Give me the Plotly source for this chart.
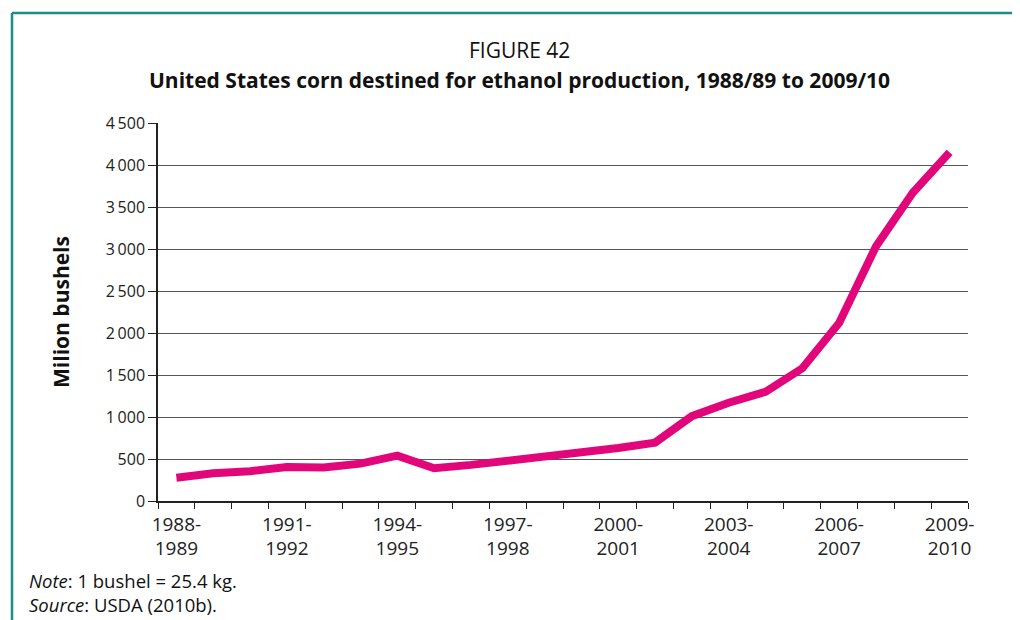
import plotly.graph_objects as go

# Сезоны (маркетинговые годы) и объём кукурузы на этанол, млн бушелей
seasons = ['1988-1989', '1989-1990', '1990-1991', '1991-1992', '1992-1993', '1993-1994',
           '1994-1995', '1995-1996', '1996-1997', '1997-1998', '1998-1999', '1999-2000',
           '2000-2001', '2001-2002', '2002-2003', '2003-2004', '2004-2005', '2005-2006',
           '2006-2007', '2007-2008', '2008-2009', '2009-2010']
corn = [277, 330, 355, 405, 400, 445, 540, 390, 430, 478, 523, 566,
        630, 695, 1010, 1170, 1300, 1580, 2120, 3030, 3670, 4150]

y_ticks = [0, 500, 1000, 1500, 2000, 2500, 3000, 3500, 4000, 4500]
y_labels = ['0', '500', '1\u2009000', '1\u2009500', '2\u2009000', '2\u2009500',
            '3\u2009000', '3\u2009500', '4\u2009000', '4\u2009500']

idx = list(range(len(seasons)))
label_idx = idx[::3]
# подпись в две строки: "1988-" / "1989"
label_text = [s.replace('-', '-<br>') for s in seasons[::3]]

font = 'Open Sans, Noto Sans, sans-serif'
ink = '#222'

fig = go.Figure(go.Scatter(x=idx, y=corn, mode='lines',
                           line=dict(color='#E2067B', width=8),
                           hoverinfo='x+y', showlegend=False))

fig.update_xaxes(range=[-0.5, len(seasons) - 0.5],
                 tickvals=label_idx, ticktext=label_text, ticks='',
                 ticklabelstandoff=5,
                 minor=dict(ticks='outside', tick0=-0.5, dtick=1, ticklen=6,
                            tickcolor=ink, tickwidth=1),
                 showgrid=False, zeroline=False,
                 showline=True, linecolor=ink, linewidth=1.5,
                 tickfont=dict(size=19, color=ink, family=font))

fig.update_yaxes(range=[0, 4500], tickvals=y_ticks, ticktext=y_labels,
                 ticks='outside', ticklen=8, tickcolor=ink,
                 showgrid=True, gridcolor='#555', gridwidth=1,
                 zeroline=False, showline=True, linecolor=ink, linewidth=1.5,
                 tickfont=dict(size=16, color=ink, family=font),
                 title=dict(text='<b>Milion bushels</b>', standoff=30,
                            font=dict(size=21, color='#111', family=font)))

# Рамка: бирюзовая линия сверху и слева (в координатах области графика)
frame = '#1E8C86'
fx = (12 - 158) / 810
fy = (501 - 13) / 378
fig.add_shape(type='line', xref='paper', yref='paper',
              x0=fx, x1=(1030 - 158) / 810, y0=fy, y1=fy,
              line=dict(color=frame, width=2.5))
fig.add_shape(type='line', xref='paper', yref='paper',
              x0=fx, x1=fx, y0=fy, y1=(501 - 630) / 378,
              line=dict(color=frame, width=2.5))

cx = (519 - 158) / 810
fig.add_annotation(text='FIGURE 42', xref='paper', yref='paper', yanchor='middle',
                   x=cx, y=(501 - 50) / 378, showarrow=False,
                   font=dict(size=21, color='#111', family=font))
fig.add_annotation(text='<b>United States corn destined for ethanol production, 1988/89 to 2009/10</b>',
                   xref='paper', yref='paper', yanchor='middle',
                   x=cx, y=(501 - 80) / 378, showarrow=False,
                   font=dict(size=21, color='#111', family=font))
fig.add_annotation(text='<i>Note</i>: 1 bushel = 25.4 kg.<br><i>Source</i>: USDA (2010b).',
                   xref='paper', yref='paper', xanchor='left', yanchor='middle', align='left',
                   x=(27 - 158) / 810, y=(501 - 592) / 378, showarrow=False,
                   font=dict(size=18.5, color='#111', family=font))

# страница добавляет отступ 8px, поэтому фигура чуть меньше окна
fig.update_layout(width=1012, height=612,
                  paper_bgcolor='white', plot_bgcolor='white',
                  margin=dict(l=150, r=52, t=115, b=119),
                  font=dict(family=font))

fig.write_html('out.html')
